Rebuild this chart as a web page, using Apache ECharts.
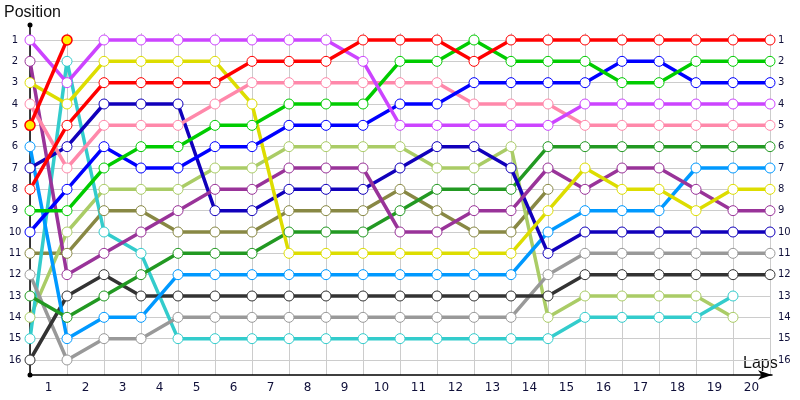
<!DOCTYPE html>
<html>
<head>
<meta charset="utf-8">
<script src="https://cdn.jsdelivr.net/npm/echarts@6/dist/echarts.min.js"></script>
<style>html,body{margin:0;padding:0;background:#fff}#c{width:800px;height:400px}</style>
</head>
<body>
<div id="c"></div>
<script>
// Lap index 0 = start position, then laps 1..20
var lapLabels = ['1','2','3','4','5','6','7','8','9','10','11','12','13','14','15','16','17','18','19','20'];
var positionLabels = ['1','2','3','4','5','6','7','8','9','10','11','12','13','14','15','16'];

var red        = [8,5,3,3,3,3,2,2,2,1,1,1,2,1,1,1,1,1,1,1,1];
var green      = [9,9,7,6,6,5,5,4,4,4,2,2,1,2,2,2,3,3,2,2,2];
var blue       = [10,8,6,7,7,6,6,5,5,5,4,4,3,3,3,3,2,2,3,3,3];
var violet     = [1,3,1,1,1,1,1,1,1,2,5,5,5,5,5,4,4,4,4,4,4];
var pink       = [4,7,5,5,5,4,3,3,3,3,3,3,4,4,4,5,5,5,5,5,5];
var darkGreen  = [13,14,13,12,11,11,11,10,10,10,9,8,8,8,6,6,6,6,6,6,6];
var lightBlue  = [6,15,14,14,12,12,12,12,12,12,12,12,12,12,10,9,9,9,7,7,7];
var yellow     = [3,4,2,2,2,2,4,11,11,11,11,11,11,11,9,7,8,8,9,8,8];
var purple     = [2,12,11,10,9,8,8,7,7,7,10,10,9,9,7,8,7,7,8,9,9];
var navy       = [7,6,4,4,4,9,9,8,8,8,7,6,6,7,11,10,10,10,10,10,10];
var gray       = [12,16,15,15,14,14,14,14,14,14,14,14,14,14,12,11,11,11,11,11,11];
var darkGray   = [16,13,12,13,13,13,13,13,13,13,13,13,13,13,13,12,12,12,12,12,12];
var cyan       = [15,2,10,11,15,15,15,15,15,15,15,15,15,15,15,14,14,14,14,13];
var lightGreen = [14,10,8,8,8,7,7,6,6,6,6,7,7,6,14,13,13,13,13,14];
var olive      = [11,11,9,9,10,10,10,9,9,9,8,9,10,10,8];
var leader     = [5,1];

var seriesDefs = [
  {name:'Olive', data: olive, color:'#888844'},
  {name:'Light green', data: lightGreen, color:'#aacc66'},
  {name:'Cyan', data: cyan, color:'#33cccc'},
  {name:'Gray', data: gray, color:'#999999'},
  {name:'Dark gray', data: darkGray, color:'#333333'},
  {name:'Light blue', data: lightBlue, color:'#0099ff'},
  {name:'Dark green', data: darkGreen, color:'#229922'},
  {name:'Navy', data: navy, color:'#1100bb'},
  {name:'Purple', data: purple, color:'#993399'},
  {name:'Yellow', data: yellow, color:'#dddd00'},
  {name:'Pink', data: pink, color:'#ff88aa'},
  {name:'Blue', data: blue, color:'#0000ff'},
  {name:'Green', data: green, color:'#00cc00'},
  {name:'Violet', data: violet, color:'#cc44ff'},
  {name:'Red', data: red, color:'#ff0000'},
  {name:'Leader', data: leader, color:'#ff0000', fill:'#ffee00'}
];

function toPoints(arr){
  var pts = [];
  for (var i = 0; i < arr.length; i++) if (arr[i] != null) pts.push([i, arr[i]]);
  return pts;
}

var series = seriesDefs.map(function(d){
  return {
    name: d.name,
    type: 'line',
    xAxisIndex: 0,
    yAxisIndex: 0,
    data: toPoints(d.data),
    symbol: 'circle',
    symbolSize: 10,
    showAllSymbol: true,
    lineStyle: {color: d.color, width: 3.5},
    itemStyle: {color: d.fill || '#ffffff', borderColor: d.color, borderWidth: d.fill ? 1.5 : 1},
    emphasis: {disabled: true},
    animation: false
  };
});

var labelColor = '#10103a';
var posSet = {};
positionLabels.forEach(function(p){ posSet[p] = true; });
function posFmt(v){ return posSet[String(v)] ? String(v) : ''; }

var chart = echarts.init(document.getElementById('c'), null, {renderer:'canvas'});
chart.setOption({
  animation: false,
  grid: [
    {left: 30, right: 30, top: 18.667, bottom: 18.667},
    {left: 30, right: 28, top: 25, bottom: 25},
    {left: 30, right: 30, top: 33, bottom: 25}
  ],
  xAxis: [
    {gridIndex: 0, type: 'value', min: 0, max: 20, show: false},
    {gridIndex: 1, type: 'value', min: 0, max: 1,
      axisLine: {show: true, onZero: false, lineStyle: {color: '#000', width: 1.5}, symbol: ['none','arrow'], symbolSize: [7, 14]},
      axisTick: {show: false}, axisLabel: {show: false}, splitLine: {show: false}},
    {gridIndex: 2, type: 'category', data: lapLabels, boundaryGap: true,
      axisLine: {show: false}, axisTick: {show: false},
      axisLabel: {color: labelColor, fontSize: 12, fontFamily: 'DejaVu Sans', margin: 7},
      splitLine: {show: true, lineStyle: {color: '#cccccc', width: 1}}}
  ],
  yAxis: [
    {gridIndex: 0, type: 'value', inverse: true, min: 0, max: 17, interval: 1,
      axisLine: {show: false}, axisTick: {show: false},
      axisLabel: {formatter: posFmt, color: labelColor, fontSize: 10, fontFamily: 'DejaVu Sans', margin: 15, align: 'center', showMinLabel: false, showMaxLabel: false},
      splitLine: {show: true, showMinLine: false, showMaxLine: false, lineStyle: {color: '#cccccc', width: 1}}},
    {gridIndex: 0, type: 'value', position: 'right', inverse: true, min: 0, max: 17, interval: 1,
      axisLine: {show: false}, axisTick: {show: false},
      axisLabel: {formatter: posFmt, color: labelColor, fontSize: 10, fontFamily: 'DejaVu Sans', margin: 8, align: 'left', showMinLabel: false, showMaxLabel: false},
      splitLine: {show: false}},
    {gridIndex: 1, type: 'value', min: 0, max: 1,
      axisLine: {show: true, onZero: false, lineStyle: {color: '#000', width: 1.5}, symbol: ['circle','circle'], symbolSize: [5, 5]},
      axisTick: {show: false}, axisLabel: {show: false}, splitLine: {show: false}},
    {gridIndex: 2, type: 'value', show: false, splitLine: {show: false}}
  ],
  graphic: [
    {type: 'text', left: 4, top: 5, style: {text: 'Position', font: '16px "Liberation Sans"', fill: '#111111'}},
    {type: 'text', left: 743, top: 356, style: {text: 'Laps', font: '16px "Liberation Sans"', fill: '#111111'}}
  ],
  series: series
});
</script>
</body>
</html>
